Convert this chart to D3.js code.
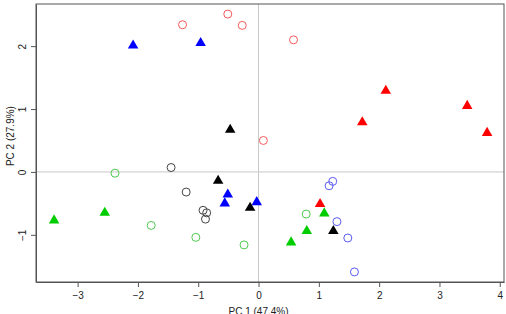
<!DOCTYPE html>
<html>
<head>
<meta charset="utf-8">
<script src="https://cdn.jsdelivr.net/npm/d3@7"></script>
<style>
  body { margin: 0; background: #fff; }
  svg { display: block; font-family: "Liberation Sans", Arial, sans-serif; }
</style>
</head>
<body>
<div id="chart"></div>
<script>
// PCA score plot: open circles and filled triangles per group.

const xTicks = [-3, -2, -1, 0, 1, 2, 3, 4];
const yTicks = [-1, 0, 1, 2];

const redCircleX = [-1.26, -0.51, -0.27, 0.58, 0.08];
const redCircleY = [2.34, 2.51, 2.33, 2.10, 0.50];
const redTriX = [2.11, 1.72, 3.46, 3.79, 1.02];
const redTriY = [1.29, 0.79, 1.05, 0.62, -0.51];

const blueCircleX = [1.23, 1.17, 1.30, 1.48, 1.59];
const blueCircleY = [-0.15, -0.22, -0.79, -1.05, -1.59];
const blueTriX = [-2.08, -0.96, -0.51, -0.56, -0.03];
const blueTriY = [2.01, 2.05, -0.36, -0.50, -0.48];

const greenCircleX = [-2.38, -1.78, -1.04, -0.24, 0.79];
const greenCircleY = [-0.02, -0.85, -1.04, -1.16, -0.67];
const greenTriX = [-3.39, -2.55, 1.09, 0.80, 0.54];
const greenTriY = [-0.77, -0.65, -0.66, -0.94, -1.12];

const blackCircleX = [-1.45, -1.20, -0.92, -0.86, -0.88];
const blackCircleY = [0.07, -0.32, -0.61, -0.65, -0.75];
const blackTriX = [-0.47, -0.67, -0.14, 1.24];
const blackTriY = [0.67, -0.14, -0.57, -0.94];

const groups = [
    { cx: redCircleX, cy: redCircleY, tx: redTriX, ty: redTriY, open: "#f55a5a", fill: "#ff0000" },
    { cx: blueCircleX, cy: blueCircleY, tx: blueTriX, ty: blueTriY, open: "#5a5af0", fill: "#0000ff" },
    { cx: greenCircleX, cy: greenCircleY, tx: greenTriX, ty: greenTriY, open: "#4fc84f", fill: "#00cd00" },
    { cx: blackCircleX, cy: blackCircleY, tx: blackTriX, ty: blackTriY, open: "#444444", fill: "#000000" },
];

const width = 506, height = 314;
const plotLeft = 36, plotRight = 504, plotTop = 4, plotBottom = 282;

const x = d3.scaleLinear().domain([-3.69, 4.07]).range([plotLeft, plotRight]);
const y = d3.scaleLinear().domain([-1.75, 2.67]).range([plotBottom, plotTop]);

const svg = d3.select("#chart").append("svg")
    .attr("width", width)
    .attr("height", height);

const minus = d => d < 0 ? "\u2212" + Math.abs(d) : d;

// zero reference lines
svg.append("line")
    .attr("x1", x(0)).attr("x2", x(0))
    .attr("y1", plotTop).attr("y2", plotBottom)
    .attr("stroke", "#c8c8c8").attr("stroke-width", 1);
svg.append("line")
    .attr("x1", plotLeft).attr("x2", plotRight)
    .attr("y1", y(0)).attr("y2", y(0))
    .attr("stroke", "#c8c8c8").attr("stroke-width", 1);

// axes
const xAxis = svg.append("g")
    .attr("transform", `translate(0,${plotBottom})`)
    .call(d3.axisBottom(x).tickValues(xTicks).tickSizeInner(5).tickSizeOuter(0)
        .tickPadding(5).tickFormat(minus));
xAxis.select(".domain").attr("stroke", "#555");
xAxis.selectAll(".tick line").attr("stroke", "#555");
xAxis.selectAll("text").attr("font-size", 10).attr("fill", "#222")
    .attr("font-family", "Liberation Sans, Arial, sans-serif");

const yAxis = svg.append("g")
    .attr("transform", `translate(${plotLeft},0)`)
    .call(d3.axisLeft(y).tickValues(yTicks).tickSizeInner(5).tickSizeOuter(0).tickFormat(minus));
yAxis.select(".domain").attr("stroke", "#555");
yAxis.selectAll(".tick line").attr("stroke", "#555");
yAxis.selectAll("text")
    .attr("font-size", 10).attr("fill", "#222")
    .attr("font-family", "Liberation Sans, Arial, sans-serif")
    .attr("x", null).attr("dy", null)
    .attr("text-anchor", "middle")
    .attr("transform", "translate(-14,0) rotate(-90)")
    .attr("dominant-baseline", "central");

// box
svg.append("rect")
    .attr("x", plotLeft).attr("y", plotTop)
    .attr("width", plotRight - plotLeft).attr("height", plotBottom - plotTop)
    .attr("fill", "none").attr("stroke", "#555").attr("stroke-width", 1);

// axis titles
svg.append("text")
    .attr("x", x(0)).attr("y", 315)
    .attr("text-anchor", "middle")
    .attr("font-size", 10).attr("fill", "#222")
    .text("PC 1 (47.4%)");
svg.append("text")
    .attr("transform", `translate(10,${y(0.57)}) rotate(-90)`)
    .attr("text-anchor", "middle")
    .attr("dominant-baseline", "central")
    .attr("font-size", 10).attr("fill", "#222")
    .text("PC 2 (27.9%)");

const tri = d3.symbol().type(d3.symbolTriangle).size(48);

groups.forEach(g => {
    const circles = g.cx.map((v, i) => [v, g.cy[i]]);
    const tris = g.tx.map((v, i) => [v, g.ty[i]]);

    svg.append("g").selectAll("circle")
        .data(circles)
        .join("circle")
        .attr("cx", d => x(d[0]))
        .attr("cy", d => y(d[1]))
        .attr("r", 4)
        .attr("fill", "none")
        .attr("stroke", g.open)
        .attr("stroke-width", 1);

    svg.append("g").selectAll("path")
        .data(tris)
        .join("path")
        .attr("d", tri)
        .attr("transform", d => `translate(${x(d[0])},${y(d[1])})`)
        .attr("fill", g.fill);
});
</script>
</body>
</html>
